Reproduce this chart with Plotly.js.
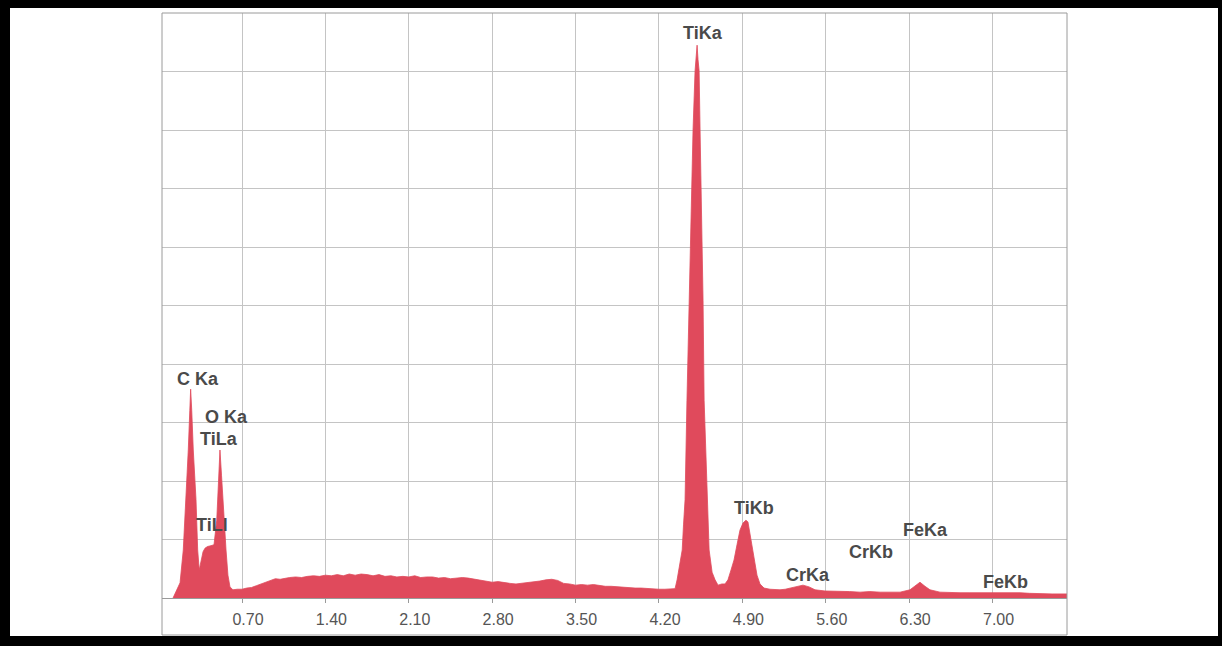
<!DOCTYPE html>
<html>
<head>
<meta charset="utf-8">
<script src="https://cdn.plot.ly/plotly-3.0.1.min.js"></script>
<style>
html,body{margin:0;padding:0;background:#fff;}
#chart{width:1222px;height:646px;}
</style>
</head>
<body>
<div id="chart"></div>
<script>
// Energy (keV) and counts (arbitrary units, 0-1000 grid scale)
const energy = [
  0.121, 0.152, 0.180, 0.207, 0.230, 0.249, 0.262, 0.269, 0.278, 0.291, 0.314, 0.328,
  0.341, 0.356, 0.373, 0.389, 0.410, 0.431, 0.450, 0.465, 0.488, 0.503, 0.515, 0.528,
  0.543, 0.556, 0.566, 0.582, 0.599, 0.624, 0.66, 0.70, 0.74, 0.78, 0.82, 0.86, 0.90,
  0.94, 0.98, 1.02, 1.06, 1.10, 1.15, 1.20, 1.25, 1.30, 1.35, 1.40, 1.45, 1.50, 1.55,
  1.60, 1.65, 1.70, 1.75, 1.80, 1.85, 1.90, 1.95, 2.00, 2.05, 2.10, 2.15, 2.20, 2.25,
  2.30, 2.35, 2.40, 2.45, 2.50, 2.55, 2.60, 2.65, 2.70, 2.75, 2.80, 2.85, 2.90, 2.95,
  3.00, 3.05, 3.10, 3.15, 3.20, 3.25, 3.30, 3.35, 3.40, 3.45, 3.50, 3.55, 3.60, 3.65,
  3.70, 3.75, 3.80, 3.85, 3.90, 3.95, 4.00, 4.05, 4.10, 4.15, 4.20, 4.25, 4.30, 4.335,
  4.352, 4.377, 4.395, 4.406, 4.419, 4.435, 4.452, 4.461, 4.473, 4.486, 4.503, 4.520,
  4.528, 4.537, 4.545, 4.554, 4.562, 4.570, 4.579, 4.604, 4.621, 4.646, 4.671, 4.696,
  4.727, 4.754, 4.779, 4.805, 4.830, 4.855, 4.880, 4.905, 4.930, 4.947, 4.972, 4.997,
  5.023, 5.048, 5.082, 5.132, 5.18, 5.216, 5.26, 5.300, 5.359, 5.409, 5.460, 5.510,
  5.594, 5.66, 5.720, 5.80, 5.888, 5.97, 6.056, 6.14, 6.224, 6.307, 6.358, 6.391,
  6.433, 6.475, 6.559, 6.64, 6.727, 6.81, 6.895, 6.98, 7.063, 7.15, 7.231, 7.31,
  7.399, 7.50, 7.625
];
const counts = [
  0, 14, 26, 82, 168, 253, 321, 357, 321, 253, 168, 82,
  48, 62, 79, 85, 88, 89, 90, 91, 133, 202, 253, 210,
  168, 116, 82, 39, 19, 14, 15, 15, 17, 18, 21, 24, 28,
  31, 33, 32, 34, 35, 36, 35, 37, 38, 37, 39, 38, 40, 38,
  41, 39, 41, 40, 38, 40, 37, 38, 36, 37, 36, 38, 35, 36,
  36, 34, 35, 33, 34, 35, 34, 32, 30, 29, 27, 28, 26, 25,
  24, 25, 26, 27, 29, 31, 32, 30, 25, 24, 22, 23, 22, 23,
  21, 20, 20, 19, 18, 18, 17, 17, 16, 16, 15, 15, 15, 16,
  31, 60, 82, 125, 168, 338, 509, 600, 701, 800, 901, 945,
  920, 901, 800, 701, 600, 509, 338, 168, 82, 44, 31, 22,
  24, 24, 31, 48, 65, 91, 116, 128, 133, 130, 99, 65,
  39, 24, 17, 15, 14, 14, 15, 17, 20, 22, 19, 14,
  12, 12, 12, 11, 10, 11, 10, 10, 10, 14, 22, 27,
  20, 14, 10, 9, 9, 9, 9, 10, 10, 9, 9, 8,
  7, 7, 7
];

// Peak labels
const peakNames = ["C Ka", "O Ka", "TiLa", "TiLl", "TiKa", "TiKb", "CrKa", "CrKb", "FeKa", "FeKb"];
const peakLabelX = [0.331, 0.566, 0.507, 0.448, 4.570, 4.998, 5.447, 5.977, 6.438, 7.105];
const peakLabelY = [374, 309, 272, 125, 966, 154, 39, 79, 116, 27];

// Axis tick labels
const tickValues = [0.70, 1.40, 2.10, 2.80, 3.50, 4.20, 4.90, 5.60, 6.30, 7.00];
const tickLabels = ["0.70", "1.40", "2.10", "2.80", "3.50", "4.20", "4.90", "5.60", "6.30", "7.00"];

const red = "rgb(224,74,92)";

const trace = {
  x: energy, y: counts, type: "scatter", mode: "lines",
  fill: "tozeroy", fillcolor: red,
  line: {color: red, width: 0.8},
  hoverinfo: "x+y"
};

const annotations = peakNames.map((n, i) => ({
  x: peakLabelX[i], y: peakLabelY[i], xref: "x", yref: "y",
  text: n, showarrow: false, xanchor: "center", yanchor: "middle",
  font: {family: "Liberation Sans, Arial, sans-serif", size: 18, color: "#4a4a4a", weight: "bold"}
}));

// pixel -> paper helpers for the decorative frame
const L = 162, R = 1067, T = 13, B = 598;
const px = v => (v - L) / (R - L);
const py = v => (B - v) / (B - T);

const shapes = [
  // grey outer box surrounding plot and tick labels
  {type: "rect", xref: "paper", yref: "paper", x0: 0, x1: 1, y0: py(635), y1: 1,
   line: {color: "#9a9a9a", width: 1}, layer: "above"},
  // black picture border
  {type: "rect", xref: "paper", yref: "paper", x0: px(-5), x1: px(1230), y0: py(8), y1: py(-5),
   fillcolor: "#000", line: {width: 0}},
  {type: "rect", xref: "paper", yref: "paper", x0: px(-5), x1: px(1230), y0: py(652), y1: py(636),
   fillcolor: "#000", line: {width: 0}},
  {type: "rect", xref: "paper", yref: "paper", x0: px(-5), x1: px(10), y0: py(652), y1: py(-5),
   fillcolor: "#000", line: {width: 0}},
  {type: "rect", xref: "paper", yref: "paper", x0: px(1218), x1: px(1230), y0: py(652), y1: py(-5),
   fillcolor: "#000", line: {width: 0}}
];

const layout = {
  width: 1222, height: 646,
  margin: {l: L, r: 1222 - R, t: T, b: 646 - B},
  paper_bgcolor: "#fff", plot_bgcolor: "#fff",
  showlegend: false,
  xaxis: {
    range: [0.0285, 7.625], tickvals: tickValues, ticktext: tickLabels,
    showgrid: true, gridcolor: "#c4c4c4", gridwidth: 1,
    zeroline: false, showline: true, linecolor: "#9a9a9a", linewidth: 1,
    ticks: "outside", ticklen: 4, tickcolor: "#9a9a9a",
    ticklabelshift: 6, ticklabelstandoff: 3,
    tickfont: {family: "Liberation Sans, Arial, sans-serif", size: 16, color: "#555"},
    fixedrange: true
  },
  yaxis: {
    range: [0, 1000], dtick: 100, showticklabels: false,
    showgrid: true, gridcolor: "#c4c4c4", gridwidth: 1,
    zeroline: false, showline: false, ticks: "", fixedrange: true
  },
  annotations: annotations,
  shapes: shapes
};

Plotly.newPlot("chart", [trace], layout, {displayModeBar: false, staticPlot: true});
</script>
</body>
</html>
